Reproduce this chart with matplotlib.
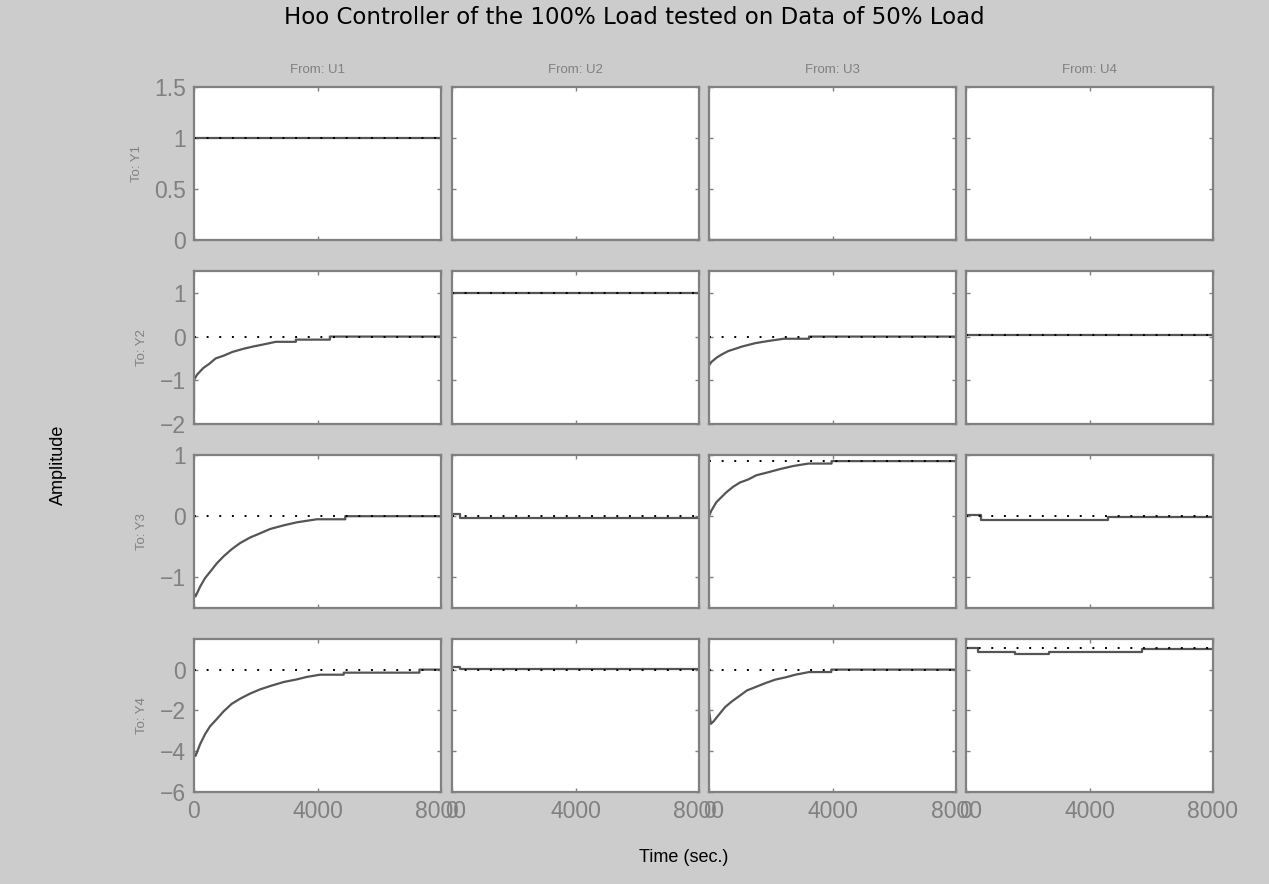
import matplotlib
matplotlib.use("Agg")
import matplotlib.pyplot as plt
from matplotlib.ticker import FuncFormatter

# labels
inputs = ["U1", "U2", "U3", "U4"]
outputs = ["Y1", "Y2", "Y3", "Y4"]
xticks = [0, 4000, 8000]
ylims = [(0, 1.5), (-2, 1.5), (-1.5, 1), (-6, 1.5)]
yticks = [[0, 0.5, 1, 1.5], [-2, -1, 0, 1], [-1, 0, 1], [-6, -4, -2, 0]]

# steady state values (dotted lines)
ss_y1 = [1, 0, 0, 0]
ss_y2 = [0, 1, 0, 0.03]
ss_y3 = [0, 0, 0.9, 0]
ss_y4 = [0, 0, 0, 1.07]

# step responses
t_flat = [0, 8000]

y_y1u1 = [1, 1]
y_y1u2 = [0, 0]
y_y1u3 = [0, 0]
y_y1u4 = [0, 0]

t_y2u1 = [0, 0, 100, 300, 500, 700, 950, 1250, 1600, 1900, 2250, 2650, 3300, 3300, 4400, 4400, 8000]
y_y2u1 = [-1.72, -0.99, -0.87, -0.72, -0.62, -0.50, -0.44, -0.35, -0.28, -0.23, -0.18, -0.12, -0.12, -0.07, -0.07, 0.0, 0.0]
t_y2u2 = [0, 0, 8000]
y_y2u2 = [0, 1, 1]
t_y2u3 = [0, 0, 80, 250, 410, 630, 850, 1060, 1280, 1500, 1930, 2420, 3240, 3240, 8000]
y_y2u3 = [0, -0.66, -0.58, -0.48, -0.41, -0.33, -0.28, -0.23, -0.19, -0.15, -0.10, -0.05, -0.05, 0.0, 0.0]
y_y2u4 = [0.03, 0.03]

t_y3u1 = [0, 50, 200, 360, 520, 740, 950, 1220, 1490, 1810, 2140, 2460, 2900, 3330, 3980, 4900, 4900, 8000]
y_y3u1 = [-1.26, -1.31, -1.15, -1.01, -0.91, -0.77, -0.66, -0.54, -0.44, -0.35, -0.28, -0.21, -0.15, -0.10, -0.05, -0.05, 0.0, 0.0]
t_y3u2 = [0, 260, 260, 8000]
y_y3u2 = [0.03, 0.03, -0.03, -0.03]
t_y3u3 = [0, 75, 240, 400, 560, 780, 1000, 1270, 1540, 1860, 2300, 2730, 3220, 3970, 3970, 8000]
y_y3u3 = [0.0, 0.09, 0.23, 0.31, 0.39, 0.48, 0.55, 0.60, 0.67, 0.71, 0.77, 0.82, 0.86, 0.86, 0.90, 0.90]
t_y3u4 = [0, 500, 500, 4600, 4600, 8000]
y_y3u4 = [0.02, 0.02, -0.06, -0.06, -0.02, -0.02]

t_y4u1 = [0, 50, 200, 360, 520, 740, 950, 1220, 1490, 1810, 2140, 2460, 2900, 3330, 3650, 4080, 4850, 4850, 7300, 7300, 8000]
y_y4u1 = [-4.10, -4.23, -3.65, -3.16, -2.78, -2.42, -2.06, -1.68, -1.43, -1.18, -0.97, -0.81, -0.61, -0.48, -0.36, -0.25, -0.25, -0.15, -0.15, 0.0, 0.0]
t_y4u2 = [0, 250, 250, 8000]
y_y4u2 = [0.15, 0.15, 0.03, 0.03]
t_y4u3 = [0, 0, 60, 140, 300, 520, 740, 960, 1230, 1500, 1830, 2150, 2480, 2800, 3240, 3960, 3960, 8000]
y_y4u3 = [0, -2.0, -2.66, -2.55, -2.25, -1.84, -1.56, -1.32, -1.02, -0.86, -0.66, -0.49, -0.38, -0.25, -0.12, -0.12, 0.0, 0.0]
t_y4u4 = [0, 0, 380, 380, 1600, 1600, 2700, 2700, 5700, 5700, 8000]
y_y4u4 = [0, 1.07, 1.07, 0.87, 0.87, 0.76, 0.76, 0.87, 0.87, 0.99, 0.99]

steady = [ss_y1, ss_y2, ss_y3, ss_y4]
curves = [
    [(t_flat, y_y1u1), (t_flat, y_y1u2), (t_flat, y_y1u3), (t_flat, y_y1u4)],
    [(t_y2u1, y_y2u1), (t_y2u2, y_y2u2), (t_y2u3, y_y2u3), (t_flat, y_y2u4)],
    [(t_y3u1, y_y3u1), (t_y3u2, y_y3u2), (t_y3u3, y_y3u3), (t_y3u4, y_y3u4)],
    [(t_y4u1, y_y4u1), (t_y4u2, y_y4u2), (t_y4u3, y_y4u3), (t_y4u4, y_y4u4)],
]

W, H = 1269, 884
bg = "#cccccc"
gray = "#808080"
plt.rcParams["font.family"] = ["Liberation Sans", "DejaVu Sans"]

fig = plt.figure(figsize=(W / 100, H / 100), dpi=100, facecolor=bg)

lefts = [194, 452, 709, 966]
tops = [87, 271, 455, 639]
aw, ah = 247, 153

ylab = FuncFormatter(lambda v, p: ("%g" % v).replace("-", "\u2212"))

for i in range(4):
    for j in range(4):
        ax = fig.add_axes([lefts[j] / W, 1 - (tops[i] + ah) / H, aw / W, ah / H])
        ax.set_facecolor("white")
        t, y = curves[i][j]
        ax.plot(t, y, color="#555555", lw=1.6)
        ax.plot(t_flat, [steady[i][j]] * 2, color="black", lw=1.4,
                linestyle=(0, (1, 5.5)))
        ax.set_xlim(0, 8000)
        ax.set_ylim(*ylims[i])
        ax.set_xticks(xticks)
        ax.set_yticks(yticks[i])
        ax.yaxis.set_major_formatter(ylab)
        ax.tick_params(direction="in", length=3, width=1, color=gray,
                       top=True, right=True, labelsize=16.5, labelcolor=gray, pad=6)
        for s in ax.spines.values():
            s.set_color(gray)
            s.set_linewidth(1.6)
        if i < 3:
            ax.set_xticklabels([])
        if j > 0:
            ax.set_yticklabels([])
        if i == 0:
            ax.set_title("From: " + inputs[j], fontsize=9.5, color=gray, pad=10)
        if j == 0:
            ax.set_ylabel("To: " + outputs[i], fontsize=9.5, color=gray, labelpad=8)

fig.text(634 / W, 1 - 17 / H, "Hoo Controller of the 100% Load tested on Data of 50% Load",
         ha="center", va="center", fontsize=16.5, family="DejaVu Sans")
fig.text(58 / W, 1 - 465 / H, "Amplitude", rotation=90, ha="center", va="center", fontsize=13)
fig.text(684 / W, 1 - 858 / H, "Time (sec.)", ha="center", va="center", fontsize=13)

fig.savefig("out.png", dpi=100, facecolor=bg)
